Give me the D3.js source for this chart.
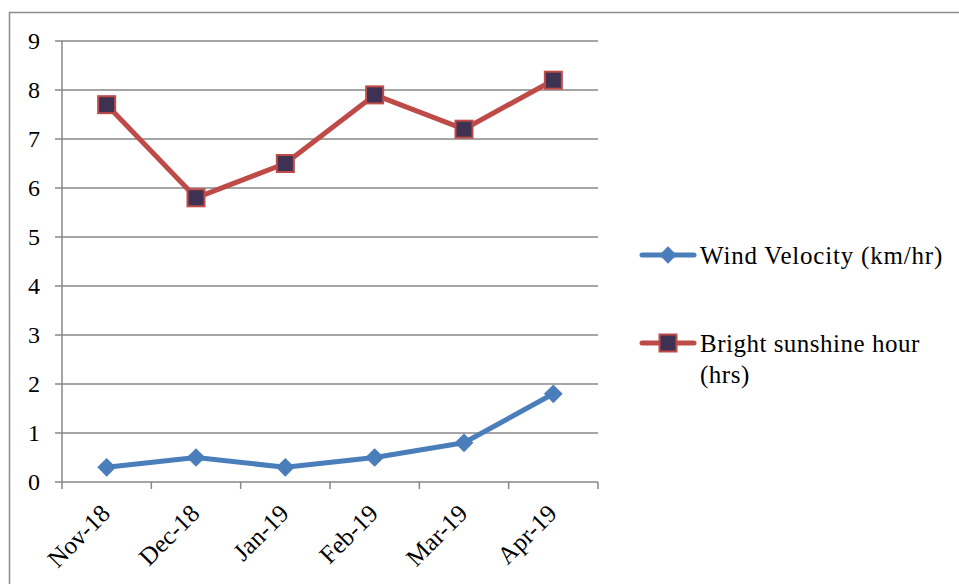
<!DOCTYPE html>
<html><head><meta charset="utf-8">
<script src="https://cdn.jsdelivr.net/npm/d3@7"></script>
<style>body{margin:0;background:#fff}svg{display:block}
svg text{font-family:"Liberation Serif","Times New Roman","DejaVu Serif",serif;fill:#000}</style>
</head><body>
<svg id="c" width="959" height="584"></svg>
<script>
const categories = ["Nov-18","Dec-18","Jan-19","Feb-19","Mar-19","Apr-19"];
const windVelocity = [0.3,0.5,0.3,0.5,0.8,1.8];
const sunshine = [7.7,5.8,6.5,7.9,7.2,8.2];
const yTicks = [0,1,2,3,4,5,6,7,8,9];
const seriesNames = ["Wind Velocity (km/hr)", ["Bright sunshine hour","(hrs)"]];

const svg = d3.select("#c");
svg.append("rect").attr("x",9.5).attr("y",12.5).attr("width",1000).attr("height",700)
  .attr("fill","none").attr("stroke","#8c8c8c").attr("stroke-width",1.5);

const L=62, R=598, T=41, B=482;
const x = d3.scaleBand().domain(categories).range([L,R]);
const y = d3.scaleLinear().domain([0,9]).range([B,T]);

svg.append("g").selectAll("line").data(yTicks).join("line")
  .attr("x1",L-7).attr("x2",R).attr("y1",d=>y(d)).attr("y2",d=>y(d))
  .attr("stroke","#878787").attr("stroke-width",1.5);
svg.append("line").attr("x1",L).attr("x2",L).attr("y1",T).attr("y2",B)
  .attr("stroke","#878787").attr("stroke-width",1.5);
const xb = categories.map(c=>x(c)).concat([R]);
svg.append("g").selectAll("line").data(xb).join("line")
  .attr("x1",d=>d).attr("x2",d=>d).attr("y1",B).attr("y2",B+7)
  .attr("stroke","#878787").attr("stroke-width",1.5);

svg.append("g").selectAll("text").data(yTicks).join("text")
  .attr("x",40).attr("y",d=>y(d)).attr("dy","0.33em").attr("text-anchor","end")
  .attr("font-size",24).text(d=>d);
svg.append("g").selectAll("text").data(categories).join("text")
  .attr("text-anchor","end")
  .attr("transform",d=>`translate(${x(d)+x.bandwidth()/2+5},${B+33}) rotate(-45)`)
  .attr("font-size",25).text(d=>d);

const cx = d=>x(d)+x.bandwidth()/2;
const line = d3.line().x((d,i)=>cx(categories[i])).y(d=>y(d));
svg.append("path").datum(windVelocity).attr("d",line).attr("fill","none")
  .attr("stroke","#4a7ebb").attr("stroke-width",5).attr("stroke-linejoin","round");
svg.append("path").datum(sunshine).attr("d",line).attr("fill","none")
  .attr("stroke","#be4b48").attr("stroke-width",5).attr("stroke-linejoin","round");

svg.append("g").selectAll("path").data(windVelocity).join("path")
  .attr("transform",(d,i)=>`translate(${cx(categories[i])},${y(d)}) rotate(45)`)
  .attr("d",d3.symbol().type(d3.symbolSquare).size(150)())
  .attr("fill","#4a7ebb").attr("stroke","#4a7ebb").attr("stroke-width",1);
svg.append("g").selectAll("rect").data(sunshine).join("rect")
  .attr("x",(d,i)=>cx(categories[i])-8.5).attr("y",d=>y(d)-8.5)
  .attr("width",17).attr("height",17)
  .attr("fill","#3f3151").attr("stroke","#be4b48").attr("stroke-width",2);

const lg = svg.append("g");
lg.append("line").attr("x1",642).attr("x2",694).attr("y1",255).attr("y2",255)
  .attr("stroke","#4a7ebb").attr("stroke-width",5).attr("stroke-linecap","round");
lg.append("path").attr("transform","translate(668,255) rotate(45)")
  .attr("d",d3.symbol().type(d3.symbolSquare).size(150)()).attr("fill","#4a7ebb");
lg.append("text").attr("x",700).attr("y",264).attr("font-size",25)
  .attr("letter-spacing",0.8).text(seriesNames[0]);
lg.append("line").attr("x1",642).attr("x2",694).attr("y1",343).attr("y2",343)
  .attr("stroke","#be4b48").attr("stroke-width",5).attr("stroke-linecap","round");
lg.append("rect").attr("x",659.5).attr("y",334.5).attr("width",17).attr("height",17)
  .attr("fill","#3f3151").attr("stroke","#be4b48").attr("stroke-width",2);
const t2 = lg.append("text").attr("font-size",25).attr("letter-spacing",0.5);
seriesNames[1].forEach((s,i)=>t2.append("tspan").attr("x",700).attr("y",352+i*31).text(s));
</script>
</body></html>
